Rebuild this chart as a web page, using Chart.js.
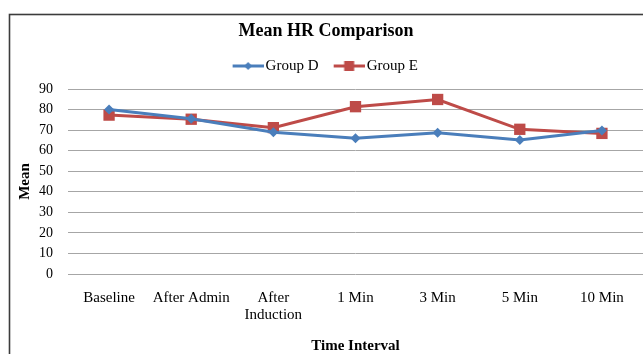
<!DOCTYPE html>
<html>
<head>
<meta charset="utf-8">
<script src="https://cdn.jsdelivr.net/npm/chart.js@4/dist/chart.umd.min.js"></script>
<style>
  html, body { margin: 0; padding: 0; background: #ffffff; }
  #wrap { width: 643px; height: 354px; }
</style>
</head>
<body>
<div id="wrap"><canvas id="hr" width="643" height="354"></canvas></div>
<script>
// Time points on the x axis
const timeIntervals = ['Baseline', 'After Admin', ['After', 'Induction'], '1 Min', '3 Min', '5 Min', '10 Min'];
// Mean heart rate per group
const groupD = [80, 75.5, 69, 66, 68.7, 65.2, 69.8];
const groupE = [77.3, 75.3, 71.2, 81.4, 84.9, 70.4, 68.4];
// Y axis range
const yMin = 0;
const yMax = 90;
const yStep = 10;

const BLUE = '#4a7ebb';
const RED = '#be4b48';
const SERIF = '"Liberation Serif", "Times New Roman", serif';

// Legend glyph: short line with the series marker in the middle
function legendGlyph(color, shape) {
  const c = document.createElement('canvas');
  c.width = 35; c.height = 14;
  const g = c.getContext('2d');
  g.strokeStyle = color;
  g.lineWidth = 3;
  g.beginPath(); g.moveTo(4, 7); g.lineTo(35, 7); g.stroke();
  g.fillStyle = color;
  if (shape === 'diamond') {
    g.beginPath(); g.moveTo(19.5, 3); g.lineTo(23.5, 7); g.lineTo(19.5, 11); g.lineTo(15.5, 7); g.closePath(); g.fill();
  } else {
    g.fillRect(14.5, 2, 10, 10);
  }
  return c;
}
const glyphs = [legendGlyph(BLUE, 'diamond'), legendGlyph(RED, 'square')];

// Outer frame and white background
const framePlugin = {
  id: 'frame',
  beforeDraw(chart) {
    const ctx = chart.ctx;
    ctx.save();
    ctx.fillStyle = '#ffffff';
    ctx.fillRect(0, 0, chart.width, chart.height);
    ctx.strokeStyle = '#3c3c3c';
    ctx.lineWidth = 1.6;
    ctx.strokeRect(9.5, 14.5, 800, 500);
    ctx.restore();
  }
};

// Empty layout box that adds a little space between the legend and the plot
const legendGapPlugin = {
  id: 'legendGap',
  start(chart, args, opts) {
    const box = {
      position: 'top',
      weight: 500,
      fullSize: true,
      options: { position: 'top', weight: 500, fullSize: true },
      left: 0, top: 0, right: 0, bottom: 0, width: 0, height: 0,
      isHorizontal() { return true; },
      update(maxWidth) {
        this.width = maxWidth;
        this.height = opts.size || 0;
      },
      draw() {}
    };
    Chart.layouts.addBox(chart, box);
  }
};

new Chart(document.getElementById('hr'), {
  type: 'line',
  data: {
    labels: timeIntervals,
    datasets: [
      {
        label: 'Group D',
        data: groupD,
        borderColor: BLUE,
        backgroundColor: BLUE,
        borderWidth: 3,
        pointStyle: 'rectRot',
        pointRadius: 5,
        pointHoverRadius: 5,
        pointBorderWidth: 0,
        tension: 0
      },
      {
        label: 'Group E',
        data: groupE,
        borderColor: RED,
        backgroundColor: RED,
        borderWidth: 3,
        pointStyle: 'rect',
        pointRadius: 8,
        pointHoverRadius: 8,
        pointBorderWidth: 0,
        tension: 0
      }
    ]
  },
  options: {
    responsive: false,
    animation: false,
    devicePixelRatio: 1,
    layout: { autoPadding: false, padding: { top: 14, left: 9, right: 0, bottom: 0 } },
    plugins: {
      title: {
        display: true,
        text: 'Mean HR Comparison',
        color: '#000000',
        font: { family: SERIF, size: 18, weight: 'bold' },
        padding: { top: 6.2, bottom: 0 }
      },
      legend: {
        display: true,
        position: 'top',
        labels: {
          color: '#000000',
          font: { family: SERIF, size: 15 },
          usePointStyle: true,
          pointStyleWidth: 24,
          padding: 16.7,
          generateLabels(chart) {
            const items = Chart.defaults.plugins.legend.labels.generateLabels(chart);
            items.forEach((it, i) => { it.pointStyle = glyphs[i]; });
            return items;
          }
        }
      },
      legendGap: { size: 5.5 },
      tooltip: { enabled: false }
    },
    scales: {
      x: {
        type: 'category',
        offset: true,
        grid: { display: false, drawTicks: false },
        border: { display: false },
        ticks: {
          color: '#000000',
          font: { family: SERIF, size: 15, lineHeight: 1.13 },
          padding: 16,
          maxRotation: 0,
          autoSkip: false
        },
        title: {
          display: true,
          text: 'Time Interval',
          color: '#000000',
          font: { family: SERIF, size: 15, weight: 'bold', lineHeight: 1 },
          padding: { top: 0, bottom: 0 }
        },
        afterFit(scale) {
          scale.height = 80;
          scale.paddingLeft = 0;
          scale.paddingRight = 0;
        }
      },
      y: {
        min: yMin,
        max: yMax,
        grid: { color: '#a6a6a6', lineWidth: 1, drawTicks: false },
        border: { display: false },
        ticks: {
          stepSize: yStep,
          color: '#000000',
          font: { family: SERIF, size: 14 },
          padding: 15
        },
        title: {
          display: true,
          text: 'Mean',
          color: '#000000',
          font: { family: SERIF, size: 15, weight: 'bold' },
          padding: { top: 7, bottom: 0 }
        },
        afterFit(scale) {
          scale.width = 59;
          scale.paddingBottom = 0;
        }
      }
    }
  },
  plugins: [framePlugin, legendGapPlugin]
});
</script>
</body>
</html>
